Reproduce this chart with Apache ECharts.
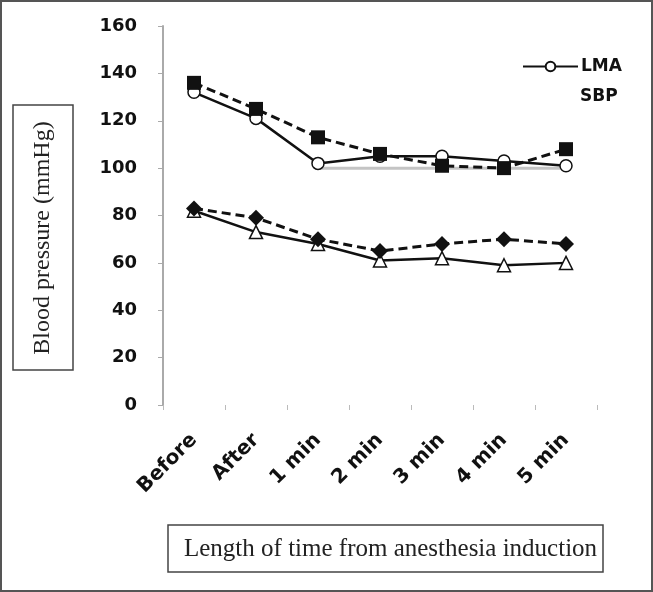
<!DOCTYPE html>
<html>
<head>
<meta charset="utf-8">
<script src="https://cdn.jsdelivr.net/npm/echarts@6/dist/echarts.min.js"></script>
<style>
  html, body { margin: 0; padding: 0; background: #fff; }
  .wrap { position: relative; width: 653px; height: 592px; }
  #chart { width: 653px; height: 592px; }
  .frame { position: absolute; left: 0; top: 0; right: 0; bottom: 0; border: 2px solid #555; pointer-events: none; }
</style>
</head>
<body>
<div class="wrap">
  <div id="chart"></div>
  <div class="frame"></div>
</div>
<script>
// time points after induction
const categories = ['Before', 'After', '1 min', '2 min', '3 min', '4 min', '5 min']
const yTicks = [0, 20, 40, 60, 80, 100, 120, 140, 160]

// systolic (upper pair) and diastolic (lower pair)
const lmaSbp = [132, 121, 102, 105, 105, 103, 101]
const otherSbp = [136, 125, 113, 106, 101, 100, 108]
const lmaDbp = [82, 73, 68, 61, 62, 59, 60]
const otherDbp = [83, 79, 70, 65, 68, 70, 68]
const greyRef = [null, null, 100, 100, 100, 100, 100]

const chart = echarts.init(document.getElementById('chart'))

const solid = { color: '#111', width: 2.5, type: 'solid' }
const dashed = { color: '#111', width: 3, type: [9, 5] }
const serif = { fontFamily: 'Liberation Serif', fill: '#222' }

const option = {
  animation: false,
  grid: { left: 163, right: 56, top: 26, bottom: 187, outerBoundsMode: 'none' },
  legend: {
    data: ['LMA SBP'],
    left: 522,
    top: 58,
    padding: 0,
    itemWidth: 55,
    itemHeight: 12,
    itemGap: 4,
    formatter: () => 'LMA',
    textStyle: { fontFamily: 'DejaVu Sans', fontWeight: 'bold', fontSize: 17, color: '#111', padding: [0, 0, 0, -2] }
  },
  graphic: [
    // boxed axis titles
    {
      type: 'rect',
      shape: { x: 13, y: 105, width: 60, height: 265 },
      style: { fill: 'none', stroke: '#444', lineWidth: 1.5 }
    },
    {
      type: 'text', x: 43, y: 238, rotation: Math.PI / 2,
      style: { ...serif, text: 'Blood pressure (mmHg)', fontSize: 24, align: 'center', verticalAlign: 'middle' }
    },
    {
      type: 'rect',
      shape: { x: 168, y: 525, width: 435, height: 47 },
      style: { fill: 'none', stroke: '#444', lineWidth: 1.5 }
    },
    {
      type: 'text', x: 184, y: 549,
      style: { ...serif, text: 'Length of time from anesthesia induction', fontSize: 25, verticalAlign: 'middle' }
    },
    {
      type: 'text', x: 580, y: 97,
      style: { text: 'SBP', fontFamily: 'DejaVu Sans', fontWeight: 'bold', fontSize: 17, fill: '#111', verticalAlign: 'middle' }
    }
  ],
  xAxis: {
    type: 'category',
    data: categories,
    axisLine: { show: false },
    axisTick: { show: true, length: 5, lineStyle: { color: '#bbb' } },
    axisLabel: {
      rotate: 45, interval: 0, margin: 32,
      fontFamily: 'DejaVu Sans', fontWeight: 'bold', fontSize: 20, color: '#111'
    }
  },
  yAxis: {
    type: 'value',
    min: 0, max: 160, interval: 20,
    axisLine: { show: true, lineStyle: { color: '#aaa', width: 2 } },
    axisTick: { show: true, length: 5, lineStyle: { color: '#aaa' } },
    splitLine: { show: false },
    axisLabel: {
      margin: 26,
      fontFamily: 'DejaVu Sans', fontWeight: 'bold', fontSize: 18, color: '#111',
      formatter: v => yTicks.includes(v) ? String(v) : ''
    }
  },
  series: [
    {
      name: 'grey', type: 'line', data: greyRef, symbol: 'none',
      lineStyle: { color: '#c4c4c4', width: 3 }, z: 1, silent: true
    },
    {
      name: 'LMA SBP', type: 'line', data: lmaSbp,
      symbol: 'circle', symbolSize: 12,
      itemStyle: { color: '#fff', borderColor: '#111', borderWidth: 1.5 },
      lineStyle: solid, z: 3
    },
    {
      name: 'Other SBP', type: 'line', data: otherSbp,
      symbol: 'rect', symbolSize: 14,
      itemStyle: { color: '#111' },
      lineStyle: dashed, z: 4
    },
    {
      name: 'LMA DBP', type: 'line', data: lmaDbp,
      symbol: 'triangle', symbolSize: 13,
      itemStyle: { color: '#fff', borderColor: '#111', borderWidth: 1.5 },
      lineStyle: solid, z: 3
    },
    {
      name: 'Other DBP', type: 'line', data: otherDbp,
      symbol: 'diamond', symbolSize: 16,
      itemStyle: { color: '#111' },
      lineStyle: dashed, z: 4
    }
  ]
}

chart.setOption(option)
</script>
</body>
</html>
